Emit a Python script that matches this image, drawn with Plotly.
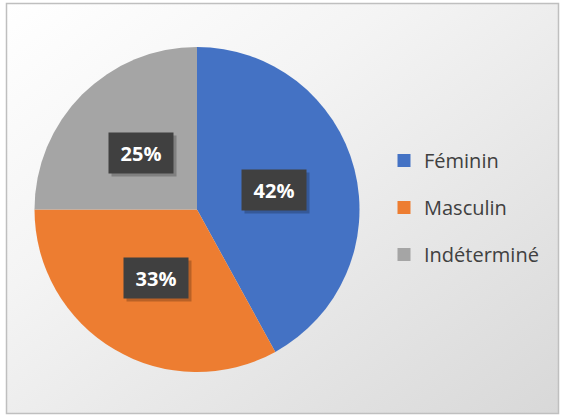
import math
import base64
import plotly.graph_objects as go

labels = ["Féminin", "Masculin", "Indéterminé"]
values = [42, 33, 25]
colors = ["#4472C4", "#ED7D31", "#A5A5A5"]

W, H = 562, 416
# pie domain in paper coords
cx_px, cy_px, r_px = 197, 209.5, 162.5
dom_x = [(cx_px - r_px) / W, (cx_px + r_px) / W]
dom_y = [(H - cy_px - r_px) / H, (H - cy_px + r_px) / H]

fig = go.Figure()
fig.add_trace(go.Pie(
    labels=labels, values=values, sort=False, direction="clockwise",
    rotation=0, marker=dict(colors=colors, line=dict(width=0)),
    textinfo="none", hoverinfo="label+percent", showlegend=False,
    domain=dict(x=dom_x, y=dom_y),
))

# legend entries (dummy traces so spacing can match)
for lab, col in zip(labels, colors):
    fig.add_trace(go.Scatter(
        x=[None], y=[None], mode="markers", name=lab, legendgroup=lab,
        marker=dict(symbol="square", size=13, color=col),
    ))

# data labels as annotations at mid-angle of each slice
total = sum(values)
cum = 0
annotations = []
for v in values:
    mid = (cum + v / 2) / total * 2 * math.pi
    cum += v
    rr = 0.49 * r_px
    px = cx_px + rr * math.sin(mid)
    py = cy_px - rr * math.cos(mid)
    txt = f"<b>{round(v / total * 100)}%</b>"
    # shadow
    annotations.append(dict(
        x=(px + 3) / W, y=(H - py - 3) / H, xref="paper", yref="paper",
        xanchor="center", yanchor="middle",
        text=" ", showarrow=False, width=64, height=40,
        bgcolor="rgba(0,0,0,0.22)", borderpad=0,
    ))
    annotations.append(dict(
        x=px / W, y=(H - py) / H, xref="paper", yref="paper",
        xanchor="center", yanchor="middle",
        text=txt, showarrow=False, width=64, height=40,
        bgcolor="#404040", borderpad=0,
        font=dict(family="Open Sans", size=20, color="white"),
    ))

svg = (
    '<svg xmlns="http://www.w3.org/2000/svg" width="552" height="410">'
    '<defs><linearGradient id="g" x1="0" y1="0" x2="1" y2="1">'
    '<stop offset="0" stop-color="#FFFFFF"/>'
    '<stop offset="0.35" stop-color="#F4F4F4"/>'
    '<stop offset="1" stop-color="#D8D8D8"/>'
    '</linearGradient></defs>'
    '<rect width="552" height="410" fill="url(#g)"/></svg>'
)
uri = "data:image/svg+xml;base64," + base64.b64encode(svg.encode()).decode()

bx0, by0, bx1, by1 = 6.5, 3.5, 558.5, 413.5

fig.update_layout(
    width=W, height=H, autosize=False,
    margin=dict(l=0, r=0, t=0, b=0),
    paper_bgcolor="white", plot_bgcolor="rgba(0,0,0,0)",
    xaxis=dict(visible=False), yaxis=dict(visible=False),
    images=[dict(
        source=uri, xref="paper", yref="paper",
        x=bx0 / W, y=1 - by0 / H, sizex=(bx1 - bx0) / W, sizey=(by1 - by0) / H,
        xanchor="left", yanchor="top", sizing="stretch", layer="below",
    )],
    shapes=[dict(
        type="rect", xref="paper", yref="paper",
        x0=bx0 / W, x1=bx1 / W, y0=1 - by1 / H, y1=1 - by0 / H,
        line=dict(color="#BFBFBF", width=1.5), layer="above",
    )],
    legend=dict(
        x=384 / W, y=(H - 141) / H, xanchor="left", yanchor="top",
        bgcolor="rgba(0,0,0,0)", tracegroupgap=18,
        font=dict(family="Open Sans", size=20, color="#404040"),
        itemwidth=30,
    ),
    annotations=annotations,
)

fig.write_html(
    "out.html",
    config={"displayModeBar": False},
    post_script="document.body.style.margin='0';document.body.style.overflow='hidden';",
)
